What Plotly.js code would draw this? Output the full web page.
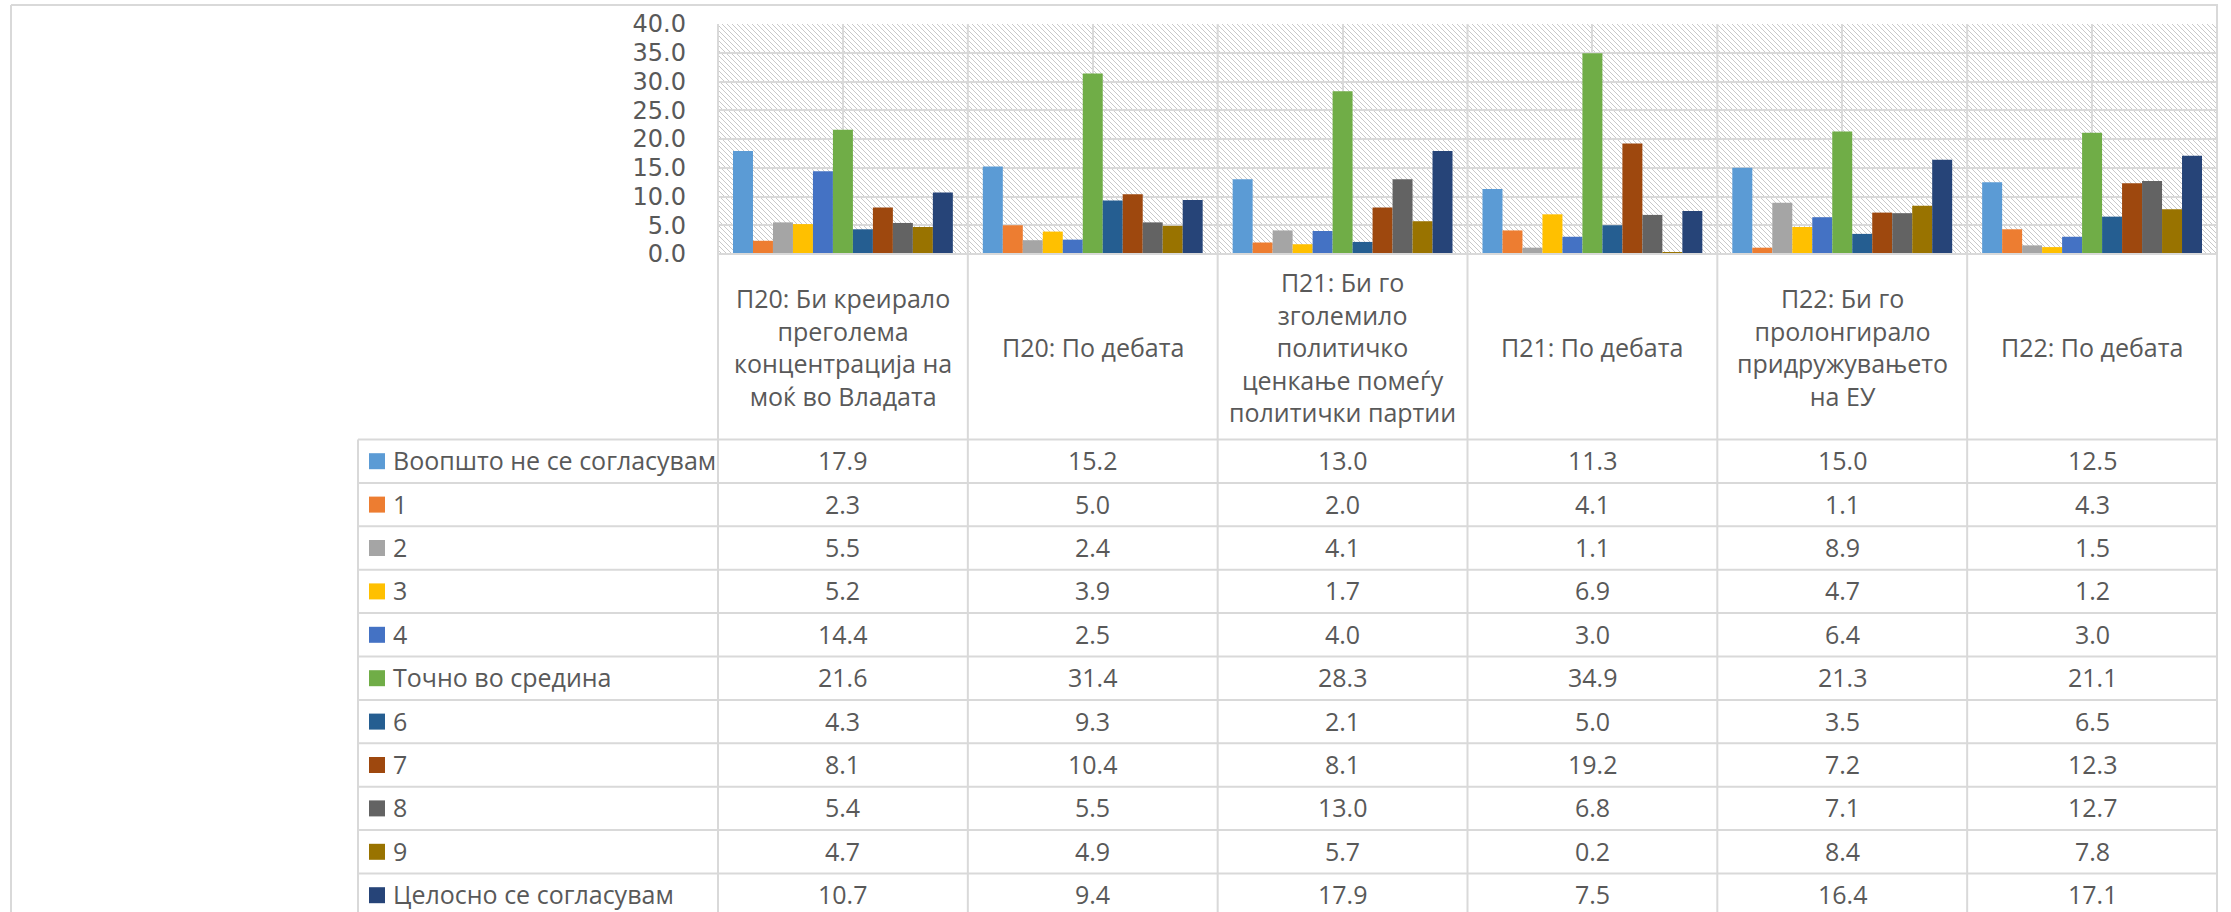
<!DOCTYPE html>
<html><head><meta charset="utf-8">
<script src="https://cdn.plot.ly/plotly-3.0.1.min.js"></script>
<style>html,body{margin:0;padding:0;background:#fff;}#chart{width:2231px;height:912px;}</style>
</head><body><div id="chart"></div>
<script>
// ---------- data ----------
const categories = [
  "П20: Би креирало<br>преголема<br>концентрација на<br>моќ во Владата",
  "П20: По дебата",
  "П21: Би го<br>зголемило<br>политичко<br>ценкање помеѓу<br>политички партии",
  "П21: По дебата",
  "П22: Би го<br>пролонгирало<br>придружувањето<br>на ЕУ",
  "П22: По дебата"
];
const seriesNames = ["Воопшто не се согласувам","1","2","3","4","Точно во средина","6","7","8","9","Целосно се согласувам"];
const s0  = [17.9, 15.2, 13.0, 11.3, 15.0, 12.5];
const s1  = [2.3, 5.0, 2.0, 4.1, 1.1, 4.3];
const s2  = [5.5, 2.4, 4.1, 1.1, 8.9, 1.5];
const s3  = [5.2, 3.9, 1.7, 6.9, 4.7, 1.2];
const s4  = [14.4, 2.5, 4.0, 3.0, 6.4, 3.0];
const s5  = [21.6, 31.4, 28.3, 34.9, 21.3, 21.1];
const s6  = [4.3, 9.3, 2.1, 5.0, 3.5, 6.5];
const s7  = [8.1, 10.4, 8.1, 19.2, 7.2, 12.3];
const s8  = [5.4, 5.5, 13.0, 6.8, 7.1, 12.7];
const s9  = [4.7, 4.9, 5.7, 0.2, 8.4, 7.8];
const s10 = [10.7, 9.4, 17.9, 7.5, 16.4, 17.1];
const seriesValues = [s0,s1,s2,s3,s4,s5,s6,s7,s8,s9,s10];
const colors = ["#5B9BD5","#ED7D31","#A5A5A5","#FFC000","#4472C4","#70AD47","#255E91","#9E480E","#636363","#997300","#264478"];
const yTickVals = [0,5,10,15,20,25,30,35,40];

// ---------- geometry ----------
const FW = 2231, FH = 912;
const L = 717, R = 2218, T = 24, B = 254;
const PW = R - L, PH = B - T;
const X = px => (px - L) / PW;
const Y = py => (B - py) / PH;
const GRID = "#D9D9D9", TXT = "#595959", FONT = "'Open Sans', 'Noto Sans', sans-serif";
const headerBottom = 439.5, rowH = 43.4, TFS = 25;

const traces = seriesNames.map((n, i) => ({
  type: "bar", name: n, x: categories, y: seriesValues[i],
  marker: {color: colors[i], line: {width: 0}},
  hoverinfo: "name+y"
}));

const shapes = [];
const annotations = [];
function hline(py, x0, x1) {
  shapes.push({type:"line", xref:"paper", yref:"paper", x0:X(x0), x1:X(x1), y0:Y(py), y1:Y(py), line:{color:GRID, width:2}});
}
function vlinePx(px, y0, y1) {
  shapes.push({type:"line", xref:"paper", yref:"paper", x0:X(px), x1:X(px), y0:Y(y0), y1:Y(y1), line:{color:GRID, width:2}});
}
// outer frame
hline(5, 11, R);
vlinePx(11, 5, FH);
// x axis / header top
hline(B, L, R);
// table horizontal lines
for (let i = 0; i <= seriesNames.length; i++) hline(headerBottom + i*rowH, 358, R);
vlinePx(358, headerBottom, FH);
// column boundaries (category axis scale)
for (let k = 0; k <= categories.length; k++) {
  shapes.push({type:"line", xref:"x", yref:"paper", x0:k-0.5, x1:k-0.5,
    y0:Y(k === categories.length ? 5 : T), y1:Y(FH), line:{color:GRID, width:2}});
}
// header labels
categories.forEach((c, j) => {
  annotations.push({xref:"x", yref:"paper", x:j, y:Y((B+headerBottom)/2), text:c, showarrow:false,
    xanchor:"center", yanchor:"middle", align:"center", font:{family:FONT, size:TFS, color:TXT}});
});
// rows
seriesNames.forEach((n, i) => {
  const cy = headerBottom + (i+0.5)*rowH;
  shapes.push({type:"rect", xref:"paper", yref:"paper", x0:X(369), x1:X(385), y0:Y(cy-8), y1:Y(cy+8),
    fillcolor:colors[i], line:{width:0}});
  annotations.push({xref:"paper", yref:"paper", x:X(391), y:Y(cy-1), text:n, showarrow:false,
    xanchor:"left", yanchor:"middle", font:{family:FONT, size:TFS, color:TXT}});
  seriesValues[i].forEach((v, j) => {
    annotations.push({xref:"x", yref:"paper", x:j, y:Y(cy-1), text:v.toFixed(1), showarrow:false,
      xanchor:"center", yanchor:"middle", font:{family:FONT, size:TFS, color:TXT}});
  });
});

// hatch background
const svg = `<svg xmlns="http://www.w3.org/2000/svg" width="${PW}" height="${PH}" viewBox="0 0 ${PW} ${PH}">` +
  `<defs><pattern id="p" width="5" height="5" patternUnits="userSpaceOnUse">` +
  `<path d="M-1,-1 L6,6 M-1,4 L1,6 M4,-1 L6,1" stroke="#c9c9c9" stroke-width="1"/></pattern></defs>` +
  `<rect width="${PW}" height="${PH}" fill="#ffffff"/><rect width="${PW}" height="${PH}" fill="url(#p)"/></svg>`;
const hatch = "data:image/svg+xml;base64," + btoa(svg);

const layout = {
  width: FW, height: FH,
  margin: {l: L, r: FW - R, t: T, b: FH - B, pad: 0},
  paper_bgcolor: "#ffffff", plot_bgcolor: "rgba(0,0,0,0)",
  showlegend: false,
  barmode: "group", bargap: 0.12, bargroupgap: 0,
  xaxis: {type: "category", showticklabels: false, ticks: "", showgrid: true, gridcolor: GRID, gridwidth: 2,
          showline: false, zeroline: false, fixedrange: true},
  yaxis: {range: [0, 40], tickvals: yTickVals, tickformat: ".1f", showgrid: true, gridcolor: GRID, gridwidth: 2,
          zeroline: false, showline: false, ticks: "", ticklabelstandoff: 30,
          tickfont: {family: "'DejaVu Sans', sans-serif", size: 24, color: TXT}, fixedrange: true},
  images: [{source: hatch, xref: "paper", yref: "paper", x: 0, y: 1, sizex: 1, sizey: 1,
            xanchor: "left", yanchor: "top", sizing: "stretch", layer: "below"}],
  shapes: shapes,
  annotations: annotations
};
Plotly.newPlot("chart", traces, layout, {displayModeBar: false, responsive: false});
</script>
</body></html>
